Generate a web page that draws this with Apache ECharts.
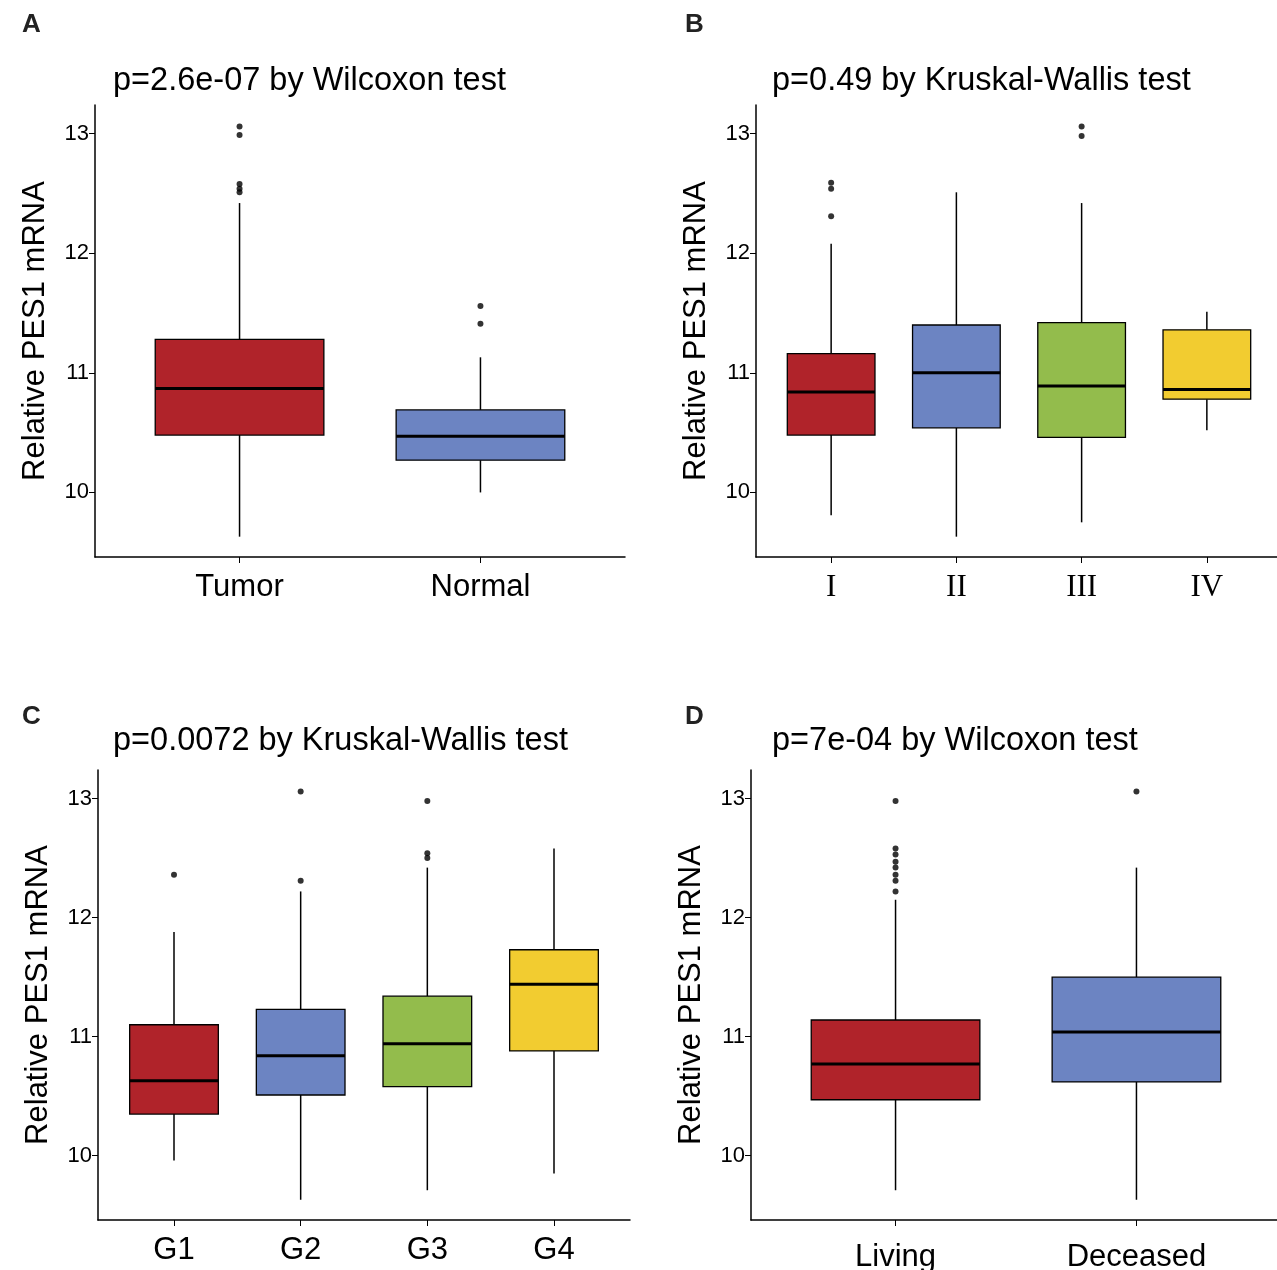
<!DOCTYPE html>
<html><head><meta charset="utf-8">
<script src="https://cdn.jsdelivr.net/npm/echarts@6/dist/echarts.min.js"></script>
<style>body{margin:0}#c{width:1277px;height:1270px}</style></head>
<body><div id="c"></div>
<script>
const catsA=['Tumor','Normal'];
const boxA=[[9.63,10.48,10.87,11.28,12.42],[10.0,10.27,10.47,10.69,11.13]];
const outA=[[0,13.06],[0,12.99],[0,12.58],[0,12.54],[0,12.51],[1,11.56],[1,11.41]];
const catsB=['I','II','III','IV'];
const boxB=[[9.81,10.48,10.84,11.16,12.08],[9.63,10.54,11.0,11.40,12.51],[9.75,10.46,10.89,11.42,12.42],[10.52,10.78,10.86,11.36,11.51]];
const outB=[[0,12.59],[0,12.54],[0,12.31],[2,13.06],[2,12.98]];
const catsC=['G1','G2','G3','G4'];
const boxC=[[9.96,10.35,10.63,11.10,11.88],[9.63,10.51,10.84,11.23,12.22],[9.71,10.58,10.94,11.34,12.42],[9.85,10.88,11.44,11.73,12.58]];
const outC=[[0,12.36],[1,13.06],[1,12.31],[2,12.98],[2,12.54],[2,12.50]];
const catsD=['Living','Deceased'];
const boxD=[[9.71,10.47,10.77,11.14,12.15],[9.63,10.62,11.04,11.50,12.42]];
const outD=[[0,12.98],[0,12.58],[0,12.53],[0,12.47],[0,12.42],[0,12.36],[0,12.31],[0,12.22],[1,13.06]];
const titles=['p=2.6e-07 by Wilcoxon test','p=0.49 by Kruskal-Wallis test','p=0.0072 by Kruskal-Wallis test','p=7e-04 by Wilcoxon test'];
const letters=['A','B','C','D'];
const yTicks=[10,11,12,13];
const colors=['#B0232A','#6C84C2','#93BC4C','#F2CC30'];

const grids=[{left:95,top:105,width:530,height:452},{left:756,top:105,width:526,height:452},
{left:98,top:770,width:532,height:450},{left:751,top:770,width:530,height:450}];
grids.forEach(g=>{g.outerBoundsMode='none';g.containLabel=false;});
const cats=[catsA,catsB,catsC,catsD],boxes=[boxA,boxB,boxC,boxD],outs=[outA,outB,outC,outD];
const margins=[15,15,15,22];
const F='Liberation Sans, Arial, sans-serif';
const xAxis=[],yAxis=[],series=[],graphic=[];
function renderBox(params,api){
  const x=api.value(0),j=api.value(6);
  const w=api.size([0.7,0])[0];
  const pMin=api.coord([x,api.value(1)]),pQ1=api.coord([x,api.value(2)]),pMed=api.coord([x,api.value(3)]),
        pQ3=api.coord([x,api.value(4)]),pMax=api.coord([x,api.value(5)]);
  const cx=pMed[0];
  const ls={stroke:'#000',lineWidth:1.5};
  return {type:'group',children:[
    {type:'line',shape:{x1:cx,y1:pMax[1],x2:cx,y2:pQ3[1]},style:ls},
    {type:'line',shape:{x1:cx,y1:pQ1[1],x2:cx,y2:pMin[1]},style:ls},
    {type:'rect',shape:{x:cx-w/2,y:pQ3[1],width:w,height:pQ1[1]-pQ3[1]},style:{fill:colors[j],stroke:'#000',lineWidth:1.3}},
    {type:'line',shape:{x1:cx-w/2,y1:pMed[1],x2:cx+w/2,y2:pMed[1]},style:{stroke:'#000',lineWidth:3}}
  ]};
}
grids.forEach((g,i)=>{
  const n=cats[i].length;
  const xt=cats[i].map((c,k)=>k+1);
  xAxis.push({type:'value',gridIndex:i,min:0.4,max:n+0.6,splitLine:{show:false},
    axisLine:{lineStyle:{color:'#000',width:1.5}},
    axisTick:{customValues:xt,length:6,lineStyle:{color:'#000'}},
    axisLabel:{customValues:xt,formatter:v=>cats[i][Math.round(v)-1]||'',color:'#000',fontSize:31,
      fontFamily:i==1?'Liberation Serif, Times New Roman, serif':F,margin:margins[i]}});
  yAxis.push({type:'value',gridIndex:i,min:9.46,max:13.24,
    name:'Relative PES1 mRNA',nameLocation:'middle',nameGap:44,nameRotate:90,
    nameTextStyle:{fontSize:31,color:'#000',fontFamily:F},
    splitLine:{show:false},
    axisLine:{show:true,lineStyle:{color:'#000',width:1.5}},
    axisTick:{show:true,customValues:yTicks,length:6,lineStyle:{color:'#000'}},
    axisLabel:{customValues:yTicks,color:'#000',fontSize:22,fontFamily:F,margin:6}});
  series.push({type:'custom',xAxisIndex:i,yAxisIndex:i,renderItem:renderBox,
    encode:{x:0,y:[1,5]},
    data:boxes[i].map((v,j)=>[j+1,...v,j])});
  series.push({type:'scatter',xAxisIndex:i,yAxisIndex:i,data:outs[i].map(o=>[o[0]+1,o[1]]),symbolSize:6,itemStyle:{color:'#000'}});
  graphic.push({type:'text',left:i%2?685:22,top:i<2?12:704,style:{text:letters[i],font:'bold 26px '+F,fill:'#222'}});
  graphic.push({type:'text',left:i%2?772:113,top:i<2?65:725,style:{text:titles[i],font:'32.5px '+F,fill:'#000'}});
});
const ch=echarts.init(document.getElementById('c'));
ch.setOption({animation:false,backgroundColor:'#fff',grid:grids,xAxis,yAxis,series,graphic});
</script></body></html>
